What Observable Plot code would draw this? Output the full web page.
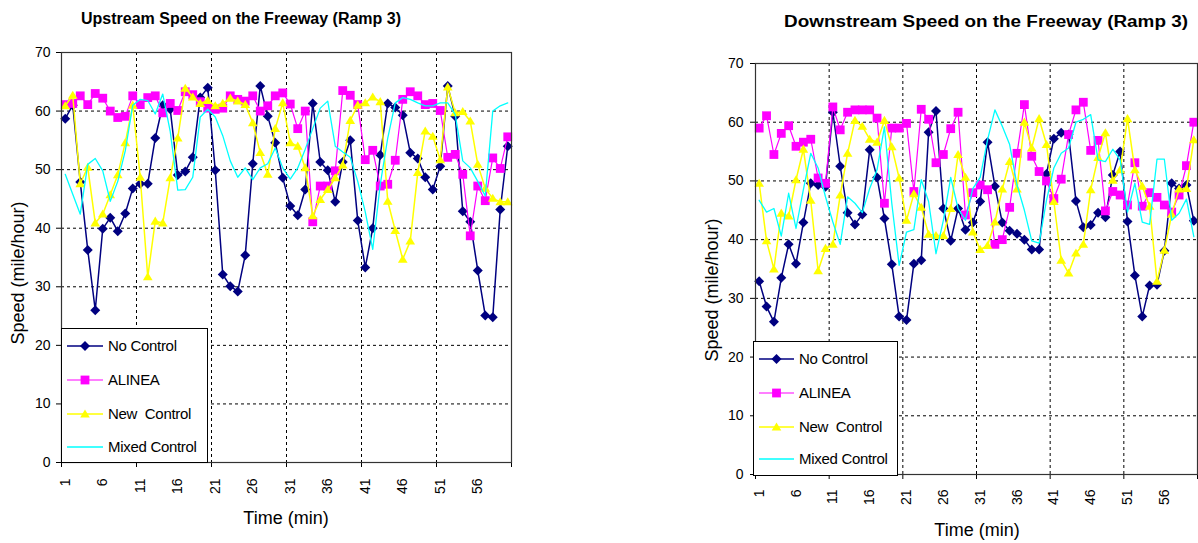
<!DOCTYPE html>
<html><head><meta charset="utf-8">
<script src="https://cdn.jsdelivr.net/npm/d3@7"></script>
<script src="https://cdn.jsdelivr.net/npm/@observablehq/plot@0.6"></script>
<style>
body{margin:0;background:#fff;font-family:"Liberation Sans",Arial,sans-serif;}
#wrap{position:relative;width:1198px;height:543px;overflow:hidden;background:#fff;}
#wrap svg.plot{position:absolute;top:0;}
.abs{position:absolute;white-space:pre;color:#000;line-height:1;}
.title{font-weight:bold;font-size:16px;transform:translate(-50%,-50%);}
.ytitle{font-size:18px;transform:translate(-50%,-50%) rotate(-90deg);}
.xtitle{font-size:18px;transform:translate(-50%,-50%);}
.legend{background:#fff;border:1px solid #000;box-sizing:border-box;}
</style></head><body><div id="wrap"></div>
<script>
// categories (minutes)
const minutes = [1,2,3,4,5,6,7,8,9,10,11,12,13,14,15,16,17,18,19,20,21,22,23,24,25,26,27,28,29,30,
  31,32,33,34,35,36,37,38,39,40,41,42,43,44,45,46,47,48,49,50,51,52,53,54,55,56,57,58,59,60];
const timeLabels = [1,6,11,16,21,26,31,36,41,46,51,56];
const xTickMarks = [0.5,10.5,20.5,30.5,40.5,50.5,60.5];
const xGrid = [10.5,20.5,30.5,40.5,50.5];
const yTicks = [0,10,20,30,40,50,60,70];
const yGrid = [10,20,30,40,50,60];
const seriesNames = ["No Control","ALINEA","New  Control","Mixed Control"];

// Upstream (left)
const upNoControl = [58.7,61.0,47.9,36.3,26.0,39.9,41.8,39.5,42.5,46.8,47.6,47.6,55.4,61.0,60.3,49.1,49.7,52.1,62.3,64.0,
  49.9,32.1,30.1,29.2,35.4,51.0,64.3,59.1,54.6,48.6,43.8,42.2,46.6,61.3,51.3,49.9,44.5,51.3,55.0,41.3,
  33.3,40.0,52.5,61.3,60.6,59.3,52.9,51.9,48.7,46.6,50.6,64.3,59.1,42.9,41.1,32.8,25.1,24.8,43.2,54.0];
const upAlinea = [61.1,61.3,62.6,61.1,63.0,62.2,60.0,58.9,59.1,62.6,61.1,62.3,62.6,59.7,61.3,60.1,63.3,62.8,61.6,60.5,
  60.3,60.5,62.6,62.0,61.7,62.6,60.0,60.9,62.6,63.1,61.2,57.0,60.0,41.1,47.2,47.2,49.8,63.5,62.7,61.1,
  51.7,53.3,47.2,47.5,51.6,62.0,63.3,62.6,61.1,61.3,60.1,52.1,52.6,49.2,38.7,47.2,44.7,52.0,50.2,55.6];
const upNewControl = [60.9,62.7,47.6,50.4,40.9,42.4,45.7,49.1,54.6,61.0,48.7,31.7,41.2,40.9,48.6,55.4,63.9,62.4,61.3,61.8,
  60.9,61.3,62.2,61.7,61.1,58.0,52.9,49.2,57.0,61.4,54.6,54.0,50.3,42.1,44.9,46.6,48.6,50.8,58.4,61.0,
  61.4,62.4,61.6,44.6,39.6,34.7,37.8,49.5,56.6,55.7,51.7,64.1,59.7,59.9,58.3,50.9,46.8,45.1,44.5,44.5];
const upMixedControl = [49.2,45.8,42.4,50.9,51.9,49.8,44.6,48.0,53.2,61.0,62.0,61.8,59.5,62.9,56.5,46.5,46.6,48.7,59.0,60.3,
  59.0,55.8,51.5,48.7,50.3,48.3,50.3,51.0,53.7,50.3,48.4,50.3,53.5,57.0,60.5,61.7,54.0,53.0,52.1,48.0,
  42.8,36.4,47.5,55.4,61.4,62.3,62.0,61.4,60.9,60.9,61.4,61.4,59.4,51.5,50.3,48.0,45.5,60.0,60.9,61.4];

// Downstream (right)
const downNoControl = [32.9,28.6,26.0,33.5,39.2,35.9,42.9,49.6,49.3,49.0,61.7,52.5,44.6,42.6,44.3,55.3,50.6,43.6,35.8,26.9,
  26.3,35.9,36.5,58.3,61.9,45.3,39.8,45.3,41.7,42.9,46.5,56.6,49.1,42.9,41.5,41.0,40.0,38.3,38.3,51.2,
  57.2,58.2,57.9,46.6,42.1,42.5,44.6,43.8,51.0,55.0,43.1,33.9,26.9,32.2,32.3,38.1,49.6,48.7,49.3,43.2];
const downAlinea = [59.0,61.1,54.5,58.1,59.4,55.9,56.6,57.1,50.5,49.6,62.6,58.7,61.7,62.1,62.1,62.1,60.7,46.2,59.0,59.0,
  59.8,48.2,62.2,60.5,53.1,54.5,58.9,61.7,44.2,48.0,49.3,48.5,39.2,40.0,45.5,54.7,63.0,54.2,51.6,50.0,
  47.0,50.3,57.9,62.1,63.4,55.2,56.9,44.9,48.2,47.6,45.9,53.1,45.7,48.0,47.2,45.9,44.7,47.6,52.6,60.0];
const downNewControl = [49.6,39.8,35.0,44.5,44.0,50.2,55.4,46.7,34.7,38.5,39.2,47.6,54.7,60.3,59.3,57.1,56.6,60.3,55.8,50.5,
  43.3,47.8,45.5,40.9,40.7,40.7,45.3,54.5,50.6,41.3,38.3,39.0,43.0,48.6,53.3,48.6,60.0,55.6,60.6,56.2,
  46.5,36.5,34.3,37.7,39.2,48.5,54.0,58.2,50.1,51.9,60.6,51.9,49.1,45.7,32.9,38.2,44.3,48.6,48.7,57.0];
const downMixedControl = [46.7,44.7,45.3,40.6,47.9,41.9,48.5,54.7,52.2,47.3,43.0,39.2,47.3,46.2,44.6,48.7,51.9,59.2,46.2,35.6,
  41.3,41.7,50.2,46.5,37.6,43.3,50.6,45.3,43.3,48.7,50.6,57.0,62.1,59.3,56.2,49.3,45.0,39.8,39.4,46.7,
  52.2,54.7,55.6,60.0,60.5,61.3,53.6,53.3,55.4,53.6,44.7,49.6,43.0,42.6,53.7,53.7,43.3,44.5,46.9,40.5];

const colors = ["#000080","#FF00FF","#FFFF00","#00FFFF"];
const widths = [1.5,1.2,1.5,1.3];

const diamond = {draw(c, s){const r=Math.sqrt(s/Math.PI); c.moveTo(0,-r); c.lineTo(r,0); c.lineTo(0,r); c.lineTo(-r,0); c.closePath();}};
const square = {draw(c, s){const r=Math.sqrt(s/Math.PI); c.rect(-r,-r,2*r,2*r);}};
const triangle = {draw(c, s){const r=Math.sqrt(s/Math.PI); c.moveTo(0,-r); c.lineTo(r*1.05,r*0.75); c.lineTo(-r*1.05,r*0.75); c.closePath();}};
const symbols = [diamond, square, triangle, null];
const symR = [5, 4.4, 4.6, 0];

function chart(o, series){
  const marks = [
    Plot.ruleY(yGrid, {y: d => d, stroke: "#000", strokeDasharray: "3,3"}),
    Plot.ruleX(xGrid, {x: d => d, stroke: "#000", strokeDasharray: "3,3"}),
    Plot.axisY({ticks: yTicks, tickSize: 5, tickPadding: o.yPad, fontSize: 14, label: null, tickFormat: d => String(d)}),
    Plot.axisX({ticks: xTickMarks, tickSize: 5, tickFormat: () => "", label: null}),
    Plot.axisX({ticks: timeLabels, tickSize: 0, tickRotate: -90, tickPadding: o.xPad, fontSize: 14, label: null, tickFormat: d => String(d)})
  ];
  series.forEach((vals, k) => {
    const data = minutes.map((t, i) => ({t, v: vals[i]}));
    marks.push(Plot.line(data, {x: "t", y: "v", stroke: colors[k], strokeWidth: widths[k]}));
    if (symbols[k]) marks.push(Plot.dot(data, {x: "t", y: "v", symbol: symbols[k], fill: colors[k], r: symR[k]}));
  });
  marks.push(Plot.frame({stroke: "#333", strokeWidth: 1.2}));
  const svg = Plot.plot({
    width: o.width, height: 543,
    marginLeft: o.ml, marginRight: o.mr, marginTop: o.mt, marginBottom: o.mb,
    x: {type: "linear", domain: [0.5, 60.5]},
    y: {domain: [0, 70]},
    style: {fontFamily: '"Liberation Sans", Arial, sans-serif', fontSize: "14px", color: "#000", background: "transparent", overflow: "visible"},
    marks
  });
  svg.classList.add("plot");
  svg.style.left = o.left + "px";
  return svg;
}

const wrap = document.getElementById("wrap");
wrap.appendChild(chart({width: 520, left: 0, ml: 61, mr: 9, mt: 52, mb: 81, yPad: 6, xPad: 16},
  [upNoControl, upAlinea, upNewControl, upMixedControl]));
wrap.appendChild(chart({width: 508, left: 690, ml: 65, mr: 1, mt: 63, mb: 69, yPad: 7, xPad: 15},
  [downNoControl, downAlinea, downNewControl, downMixedControl]));

function addText(cls, txt, x, y, extra){
  const d = document.createElement("div");
  d.className = "abs " + cls; d.textContent = txt;
  d.style.left = x + "px"; d.style.top = y + "px";
  if (extra) Object.assign(d.style, extra);
  wrap.appendChild(d);
}
addText("title", "Upstream Speed on the Freeway (Ramp 3)", 241, 19);
addText("title", "Downstream Speed on the Freeway (Ramp 3)", 986, 22, {transform: "translate(-50%,-50%) scaleX(1.18)"});
addText("ytitle", "Speed (mile/hour)", 18, 273);
addText("ytitle", "Speed (mile/hour)", 712, 290);
addText("xtitle", "Time (min)", 286, 518);
addText("xtitle", "Time (min)", 977, 530);

function legend(x, y, w, h, rowY, swL, swR, textX){
  const box = document.createElement("div");
  box.className = "abs legend";
  Object.assign(box.style, {left: x + "px", top: y + "px", width: w + "px", height: h + "px"});
  const ns = "http://www.w3.org/2000/svg";
  const svg = document.createElementNS(ns, "svg");
  svg.setAttribute("width", w - 2); svg.setAttribute("height", h - 2);
  svg.style.position = "absolute"; svg.style.left = "0"; svg.style.top = "0";
  const mx = (swL + swR) / 2;
  const shapes = [
    (cy) => `<path d="M${mx},${cy-5}L${mx+5},${cy}L${mx},${cy+5}L${mx-5},${cy}Z" fill="${colors[0]}"/>`,
    (cy) => `<rect x="${mx-4.4}" y="${cy-4.4}" width="8.8" height="8.8" fill="${colors[1]}"/>`,
    (cy) => `<path d="M${mx},${cy-4.6}L${mx+4.8},${cy+3.4}L${mx-4.8},${cy+3.4}Z" fill="${colors[2]}"/>`,
    () => ""
  ];
  let html = "";
  seriesNames.forEach((n, k) => {
    const cy = rowY[k];
    html += `<line x1="${swL}" x2="${swR}" y1="${cy}" y2="${cy}" stroke="${colors[k]}" stroke-width="${widths[k]}"/>`;
    html += shapes[k](cy);
    html += `<text x="${textX}" y="${cy}" dy="0.35em" font-size="15" font-family='"Liberation Sans", Arial, sans-serif' fill="#000" xml:space="preserve" letter-spacing="-0.3">${n}</text>`;
  });
  svg.innerHTML = html;
  box.appendChild(svg);
  wrap.appendChild(box);
}
legend(61, 328, 147, 135, [17, 51, 85, 118], 5, 41, 46);
legend(753, 341, 145, 135, [17, 51, 85, 117], 5, 40, 45);
</script></body></html>
